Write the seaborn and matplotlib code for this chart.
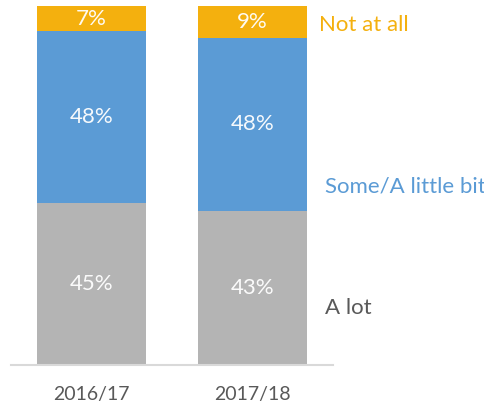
import matplotlib
matplotlib.use("Agg")
import matplotlib.pyplot as plt
import seaborn as sns
import pandas as pd
import numpy as np

years = ["2016/17", "2017/18"]
a_lot = [45, 43]
some = [48, 48]
not_at_all = [7, 9]

series = ["A lot", "Some/A little bit", "Not at all"]
colors = ["#B4B4B4", "#5B9BD5", "#F4B00E"]
label_colors = ["#595959", "#5B9BD5", "#F4B00E"]

sns.set_style("white")
plt.rcParams['font.family'] = ['Lato', 'DejaVu Sans']

fig = plt.figure(figsize=(4.85, 4.08), dpi=100)
ax = fig.add_axes([11 / 485, 43 / 408, 322 / 485, 359 / 408])

layers = np.array([a_lot, some, not_at_all])
tops = layers.cumsum(axis=0)
# draw cumulative layers from the top down so each covers the one above
for i in reversed(range(len(series))):
    df = pd.DataFrame({"year": years, "value": tops[i]})
    sns.barplot(data=df, x="year", y="value", color=colors[i], width=0.68,
                saturation=1, ax=ax, linewidth=0)

for i in range(len(series)):
    for j, yr in enumerate(years):
        mid = tops[i][j] - layers[i][j] / 2
        ax.text(j, mid, f"{layers[i][j]}%", ha="center", va="center",
                color="white", fontsize=16, alpha=0.95)

# right-hand labels in place of a legend
label_y = [15.9, 49.6, 94.7]
label_x = [1.45, 1.45, 1.413]
for i in range(len(series)):
    ax.text(label_x[i], label_y[i], series[i], color=label_colors[i],
            fontsize=16, ha="left", va="center", clip_on=False)

ax.set_xlim(-0.5, 1.5)
ax.set_ylim(0, 100)
ax.set_xlabel("")
ax.set_ylabel("")
ax.set_yticks([])
for s in ["top", "right", "left"]:
    ax.spines[s].set_visible(False)
ax.spines["bottom"].set_color("#D9D9D9")
ax.spines["bottom"].set_linewidth(1.5)
ax.tick_params(axis="x", length=0, labelsize=14, labelcolor="#595959", pad=15)

fig.savefig("out.png", dpi=100)
